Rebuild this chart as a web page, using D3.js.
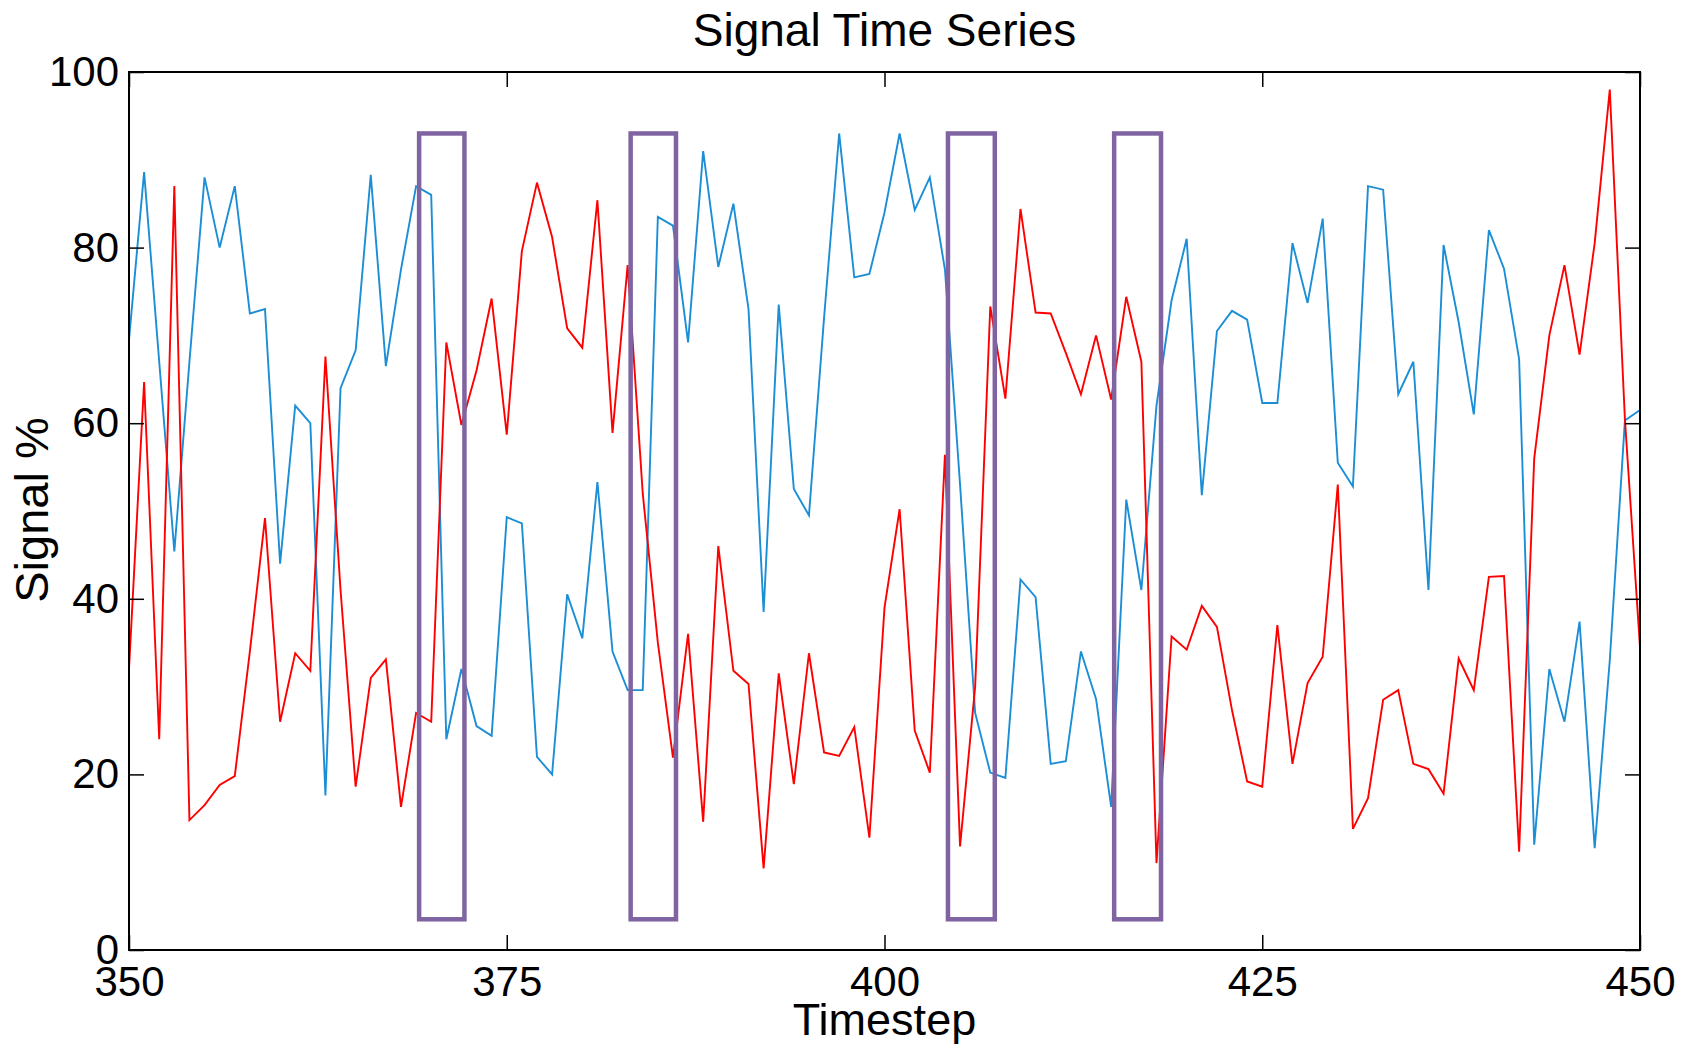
<!DOCTYPE html>
<html>
<head>
<meta charset="utf-8">
<script src="https://cdn.jsdelivr.net/npm/d3@7"></script>
<style>
  body { margin: 0; background: #fff; }
  text { font-family: "Liberation Sans", Arial, sans-serif; }
</style>
</head>
<body>
<div id="chart"></div>
<script>
// timesteps 350..450, one reading per step
const timesteps = d3.range(350, 451);

const blueSignal = [
  69.5, 88.6, 67, 45.4, 67, 88, 80, 87, 72.5, 73,
  44, 62, 60, 17.6, 64, 68.3, 88.3, 66.5, 77.5, 87,
  86, 24, 32, 25.5, 24.4, 49.3, 48.6, 22, 20, 40.5,
  35.5, 53.3, 34, 29.6, 29.6, 83.5, 82.5, 69.2, 91, 77.8,
  85, 73, 38.5, 73.5, 52.5, 49.5, 72, 93, 76.6, 77,
  84, 93, 84.3, 88, 77.5, 53, 27, 20.2, 19.6, 42.2,
  40.2, 21.2, 21.5, 34, 28.6, 16.3, 51.3, 41, 62, 74,
  81, 51.8, 70.5, 72.8, 71.8, 62.3, 62.3, 80.5, 73.7, 83.3,
  55.5, 52.8, 87, 86.6, 63.3, 67, 41, 80.3, 71.5, 61,
  82, 77.6, 67.3, 12, 32, 26, 37.4, 11.6, 33, 60.3,
  61.5
];

const redSignal = [
  32, 64.7, 24, 87, 14.8, 16.5, 18.8, 19.8, 34, 49.2,
  26, 33.8, 31.8, 67.6, 41, 18.6, 31, 33.1, 16.3, 27,
  26, 69.2, 59.8, 66, 74.2, 58.7, 79.6, 87.4, 81.2, 70.8,
  68.6, 85.4, 58.9, 78, 52, 35, 21.9, 36, 14.6, 46,
  31.8, 30.3, 9.3, 31.5, 18.9, 33.8, 22.5, 22.1, 25.4, 12.8,
  39, 50.2, 25, 20.2, 56.4, 11.8, 30, 73.3, 62.8, 84.4,
  72.6, 72.5, 68, 63.3, 70, 62.7, 74.4, 67, 9.9, 35.7,
  34.2, 39.2, 36.8, 27.3, 19.2, 18.6, 37, 21.2, 30.4, 33.4,
  53, 13.8, 17.3, 28.5, 29.6, 21.2, 20.6, 17.8, 33.2, 29.6,
  42.5, 42.6, 11.2, 56, 70, 78, 67.8, 80.5, 98, 60.5,
  34.5
];

// highlighted windows (timestep start, end) and their vertical extent
const boxStarts = [369.2, 383.2, 404.2, 415.2];
const boxEnds = [372.2, 386.2, 407.3, 418.3];
const boxLow = 3.5;
const boxHigh = 93;

const xTicks = [350, 375, 400, 425, 450];
const yTicks = [0, 20, 40, 60, 80, 100];

const margin = { top: 72, right: 46, bottom: 96, left: 129 };
const width = 1686 - margin.left - margin.right;
const height = 1046 - margin.top - margin.bottom;

const svg = d3.select("#chart")
  .append("svg")
  .attr("width", width + margin.left + margin.right)
  .attr("height", height + margin.top + margin.bottom)
  .append("g")
  .attr("transform", `translate(${margin.left}, ${margin.top})`);

const x = d3.scaleLinear().domain([350, 450]).range([0, width]);
const y = d3.scaleLinear().domain([0, 100]).range([height, 0]);

// lines
const line = d3.line()
  .x(d => x(d[0]))
  .y(d => y(d[1]));

svg.append("path")
  .datum(timesteps.map((t, i) => [t, blueSignal[i]]))
  .attr("fill", "none")
  .attr("stroke", "#1b8ed6")
  .attr("stroke-width", 1.9)
  .attr("d", line);

svg.append("path")
  .datum(timesteps.map((t, i) => [t, redSignal[i]]))
  .attr("fill", "none")
  .attr("stroke", "#ff0000")
  .attr("stroke-width", 1.9)
  .attr("d", line);

// purple boxes
boxStarts.forEach((s, i) => {
  svg.append("rect")
    .attr("x", x(s))
    .attr("y", y(boxHigh))
    .attr("width", x(boxEnds[i]) - x(s))
    .attr("height", y(boxLow) - y(boxHigh))
    .attr("fill", "none")
    .attr("stroke", "#8064a2")
    .attr("stroke-width", 4.5);
});

// axes, ticks pointing inward on all four sides
const tickLen = 15;
const fontSize = 42;

svg.append("g")
  .attr("transform", `translate(0, ${height})`)
  .call(d3.axisBottom(x).tickValues(xTicks).tickSizeInner(-tickLen).tickSizeOuter(0).tickPadding(16));

svg.append("g")
  .call(d3.axisLeft(y).tickValues(yTicks).tickSizeInner(-tickLen).tickSizeOuter(0).tickPadding(10));

svg.append("g")
  .call(d3.axisTop(x).tickValues(xTicks).tickSizeInner(-tickLen).tickSizeOuter(0).tickFormat(""));

svg.append("g")
  .attr("transform", `translate(${width}, 0)`)
  .call(d3.axisRight(y).tickValues(yTicks).tickSizeInner(-tickLen).tickSizeOuter(0).tickFormat(""));

svg.selectAll(".domain").remove();
svg.selectAll(".tick line").attr("stroke", "#000").attr("stroke-width", 1.5);
svg.selectAll(".tick text")
  .attr("fill", "#000")
  .style("font-size", fontSize + "px")
  .style("font-family", "'Liberation Sans', Arial, sans-serif");

// frame
svg.append("rect")
  .attr("width", width)
  .attr("height", height)
  .attr("fill", "none")
  .attr("stroke", "#000")
  .attr("stroke-width", 2);

// labels
svg.append("text")
  .attr("x", width / 2)
  .attr("y", -26)
  .attr("text-anchor", "middle")
  .style("font-size", "46px")
  .text("Signal Time Series");

svg.append("text")
  .attr("x", width / 2)
  .attr("y", height + 85)
  .attr("text-anchor", "middle")
  .style("font-size", "45px")
  .text("Timestep");

svg.append("text")
  .attr("transform", "rotate(-90)")
  .attr("x", -height / 2 + 1)
  .attr("y", -81)
  .attr("text-anchor", "middle")
  .style("font-size", "47px")
  .text("Signal %");
</script>
</body>
</html>
